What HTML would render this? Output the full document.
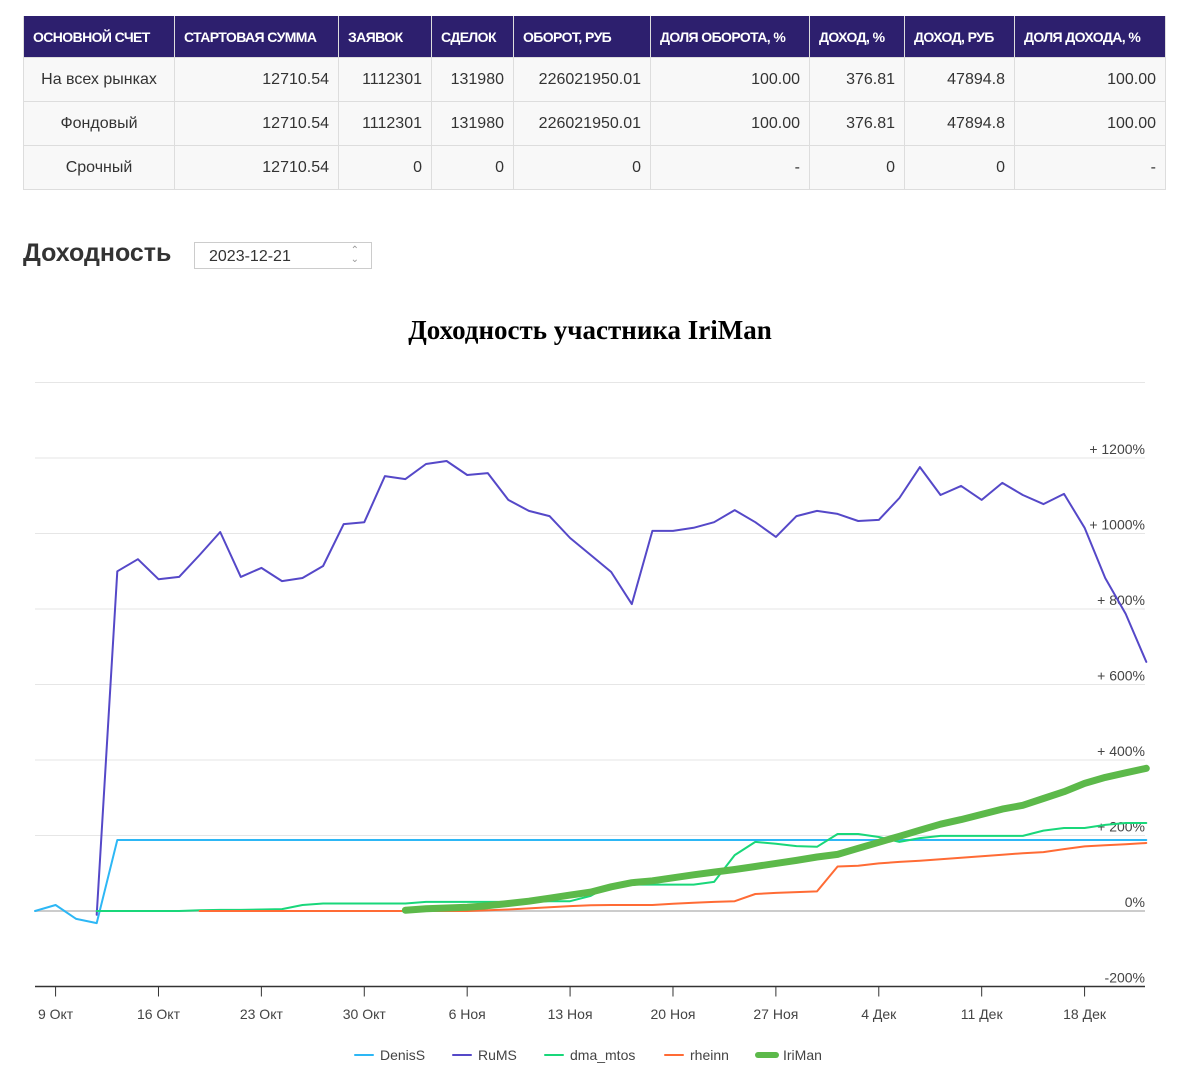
<!DOCTYPE html>
<html><head><meta charset="utf-8"><style>
body{margin:0;width:1185px;height:1075px;background:#fff;font-family:"Liberation Sans",sans-serif;position:relative;overflow:hidden}
table{position:absolute;left:23px;top:16px;border-collapse:collapse;font-size:16px;color:#333}
th{background:#2d1f6e;color:#fff;font-size:14px;font-weight:bold;height:41px;padding:0 9px;text-align:left;letter-spacing:-0.6px;border:1px solid #ddd;border-top:none}
td{height:43px;padding:0 9px;text-align:right;border:1px solid #ddd;background:#f8f8f8}
td.c{text-align:center}
#ttl{position:absolute;left:23px;top:239px;font-size:25px;font-weight:bold;color:#333}
#date{position:absolute;left:194px;top:242px;width:178px;height:27px;border:1px solid #ccc;box-sizing:border-box;font-size:16px;color:#333;padding:5px 14px}
#date span{position:absolute;right:12px;top:3px;font-size:10px;color:#999;line-height:9px}
</style></head><body>
<table>
<tr><th style="width:132px">ОСНОВНОЙ СЧЕТ</th><th style="width:145px">СТАРТОВАЯ СУММА</th><th style="width:74px">ЗАЯВОК</th><th style="width:63px">СДЕЛОК</th><th style="width:118px">ОБОРОТ, РУБ</th><th style="width:140px">ДОЛЯ ОБОРОТА, %</th><th style="width:76px">ДОХОД, %</th><th style="width:91px">ДОХОД, РУБ</th><th style="width:132px">ДОЛЯ ДОХОДА, %</th></tr>
<tr><td class="c">На всех рынках</td><td>12710.54</td><td>1112301</td><td>131980</td><td>226021950.01</td><td>100.00</td><td>376.81</td><td>47894.8</td><td>100.00</td></tr>
<tr><td class="c">Фондовый</td><td>12710.54</td><td>1112301</td><td>131980</td><td>226021950.01</td><td>100.00</td><td>376.81</td><td>47894.8</td><td>100.00</td></tr>
<tr><td class="c">Срочный</td><td>12710.54</td><td>0</td><td>0</td><td>0</td><td>-</td><td>0</td><td>0</td><td>-</td></tr>
</table>
<div id="ttl">Доходность</div>
<div id="date">2023-12-21<span>⌃<br>⌄</span></div>
<svg id="chart" width="1185" height="1075" style="position:absolute;left:0;top:0" font-family="Liberation Sans, sans-serif">
<text x="590" y="339" text-anchor="middle" font-family="Liberation Serif, serif" font-weight="bold" font-size="27" fill="#000">Доходность участника IriMan</text>
</svg>
<script>
const yTicks=[-200,0,200,400,600,800,1000,1200];
const yTickLabels=["-200%","0%","+ 200%","+ 400%","+ 600%","+ 800%","+ 1000%","+ 1200%"];
const xTickIdx=[1,6,11,16,21,26,31,36,41,46,51];
const xTickLabels=["9 Окт","16 Окт","23 Окт","30 Окт","6 Ноя","13 Ноя","20 Ноя","27 Ноя","4 Дек","11 Дек","18 Дек"];
const seriesNames=["DenisS","RuMS","dma_mtos","rheinn","IriMan"];
const denisStart=0;
const denisValues=[0,16,-21,-32,188,188,188,188,188,188,188,188,188,188,188,188,188,188,188,188,188,188,188,188,188,188,188,188,188,188,188,188,188,188,188,188,188,188,188,188,188,188,188,188,188,188,188,188,188,188,188,188,188,188,188];
const rumsStart=3;
const rumsValues=[-10,900,932,879,885,943,1004,885,909,874,882,914,1025,1030,1152,1144,1184,1192,1155,1160,1089,1060,1046,988,943,898,813,1007,1007,1015,1030,1062,1030,991,1046,1060,1052,1033,1036,1094,1176,1102,1126,1089,1134,1102,1078,1105,1015,882,787,660];
const dmaStart=3;
const dmaValues=[0,0,0,0,0,2,3,3,4,5,16,20,20,20,20,20,24,24,24,24,24,24,26,26,40,70,70,70,70,70,77,148,183,178,172,170,204,204,196,183,193,199,199,199,199,199,213,220,220,228,233,233];
const rheinnStart=8;
const rheinnValues=[0,0,0,0,0,0,0,0,0,0,0,0,0,0,2,4,7,10,13,15,16,16,16,19,22,24,26,45,48,50,52,118,120,126,130,133,137,141,145,149,153,156,164,171,174,177,180];
const iriStart=18;
const iriValues=[2,6,8,10,14,20,26,34,42,50,64,75,80,88,96,103,110,118,126,134,143,150,166,182,198,214,230,242,256,270,280,298,316,338,354,366,378];
const colors=["#2db7f5","#5548c8","#19d77a","#ff6b35","#5cb94a"];
const widths=[2,2,2,2,7];

const svg=document.getElementById('chart');
const NS="http://www.w3.org/2000/svg";
const X=i=>35+i*20.58;
const Y=v=>911-v*0.3775;
function mk(tag,attrs){const e=document.createElementNS(NS,tag);for(const k in attrs)e.setAttribute(k,attrs[k]);svg.appendChild(e);return e;}
// top gridline
let g=mk('line',{x1:35,x2:1145,y1:Y(1400),y2:Y(1400),stroke:'#e6e6e6'});


yTicks.forEach((v,k)=>{
  if(v>-200){
    const l=mk('line',{x1:35,x2:1145,y1:Y(v),y2:Y(v),stroke:v===0?'#cccccc':'#e6e6e6','stroke-width':v===0?2:1});
    
    
  }
  const t=mk('text',{x:1145,y:Y(v)-4,'text-anchor':'end','font-size':14,fill:'#444'});
  t.textContent=yTickLabels[k];
  
  
});
const ax=mk('line',{x1:35,x2:1145,y1:Y(-200),y2:Y(-200),stroke:'#333','stroke-width':1.5});


xTickIdx.forEach((i,k)=>{
  const tk=mk('line',{x1:X(i),x2:X(i),y1:Y(-200),y2:Y(-200)+10,stroke:'#333'});
  
  
  const t=mk('text',{x:X(i),y:1019,'text-anchor':'middle','font-size':14,fill:'#444'});
  t.textContent=xTickLabels[k];
  
  
});
const all=[[denisStart,denisValues],[rumsStart,rumsValues],[dmaStart,dmaValues],[rheinnStart,rheinnValues],[iriStart,iriValues]];
const order=[0,1,2,3,4];
order.forEach(s=>{
  const [st,vals]=all[s];
  const pts=vals.map((v,j)=>X(st+j).toFixed(1)+','+Y(v).toFixed(1)).join(' ');
  const p=mk('polyline',{points:pts,fill:'none',stroke:colors[s],'stroke-width':widths[s],'stroke-linejoin':'round','stroke-linecap':'round'});
  
  
});
const legX=[355,453,545,665,758];
seriesNames.forEach((n,s)=>{
  const l=mk('line',{x1:legX[s],x2:legX[s]+18,y1:1055,y2:1055,stroke:colors[s],'stroke-width':s===4?6:2,'stroke-linecap':'round'});
  
  
  const t=mk('text',{x:legX[s]+25,y:1060,'font-size':14,fill:'#444'});
  t.textContent=n;
  
  
});
</script>
</body></html>
